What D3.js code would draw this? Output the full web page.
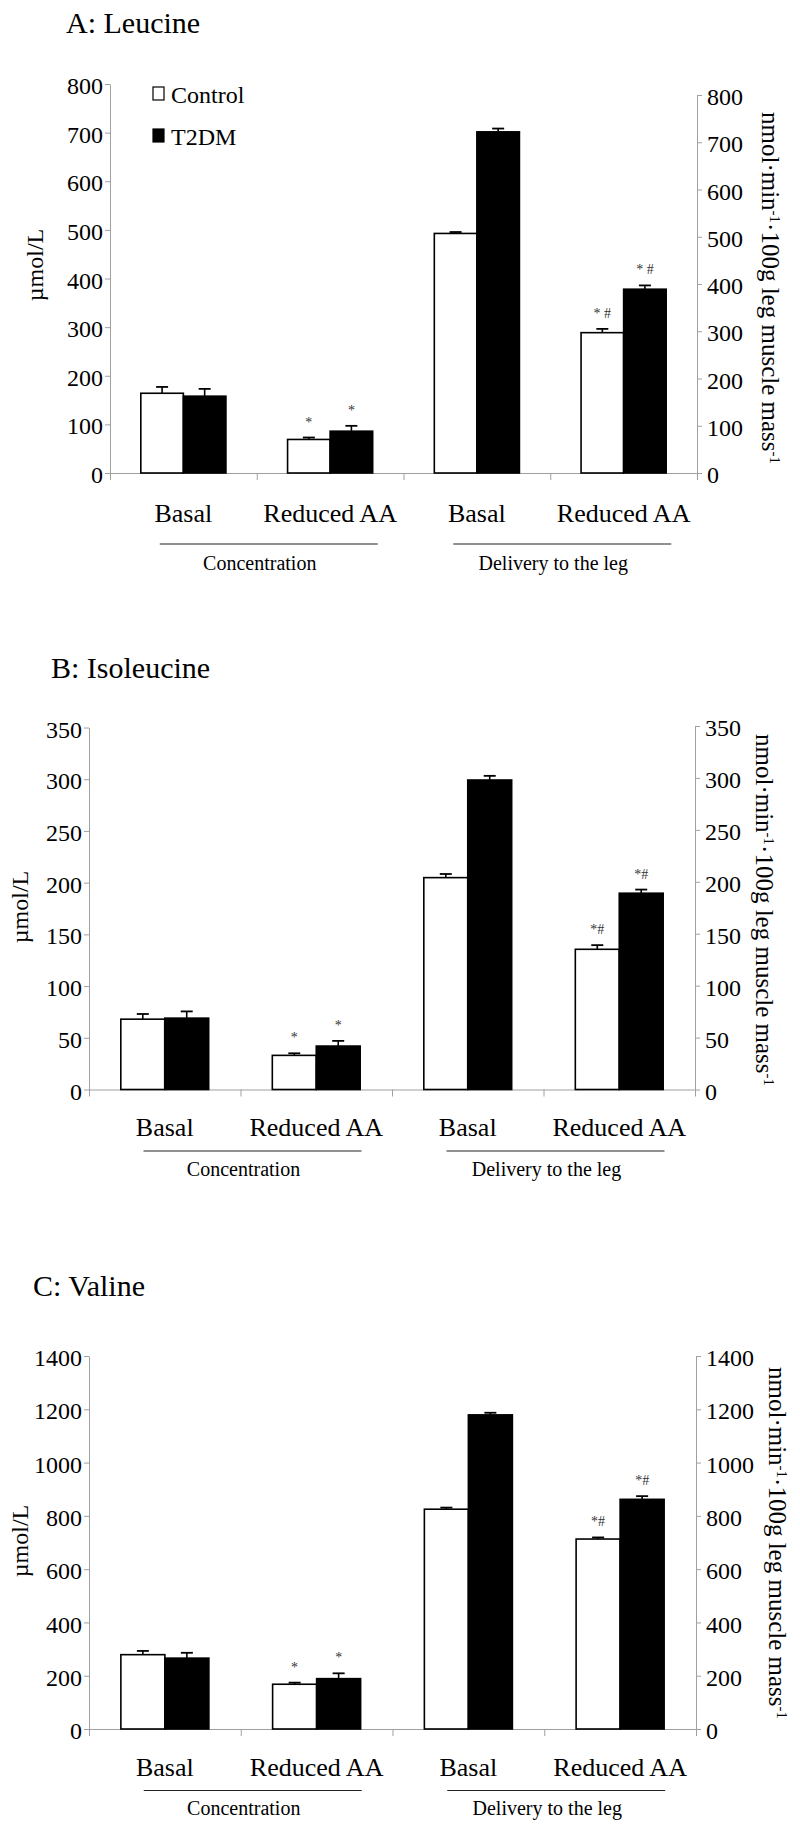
<!DOCTYPE html>
<html>
<head>
<meta charset="utf-8">
<script src="https://cdn.jsdelivr.net/npm/d3@7"></script>
<style>
  body { margin: 0; background: #fff; }
  svg, svg text { font-family: "Liberation Serif", "DejaVu Serif", "Times New Roman", serif; }
  svg { display: block; }
</style>
</head>
<body>
<div id="svg-container"></div>
<script>
////////////////////////////////////////////////////////////////////
////////////////////////////  Data  ////////////////////////////////
const conditions = ["Basal", "Reduced AA", "Basal", "Reduced AA"];
const groups = ["Concentration", "Delivery to the leg"];
const series = ["Control", "T2DM"];

// A: Leucine
const leuControl = [164, 69, 507, 297];
const leuControlErr = [13, 4, 3, 8];
const leuT2dm = [158, 86, 722, 389];
const leuT2dmErr = [15, 11, 7, 8];
const leuControlMark = ["", "*", "", "* #"];
const leuT2dmMark = ["", "*", "", "* #"];
const leuTicks = [0, 100, 200, 300, 400, 500, 600, 700, 800];

// B: Isoleucine
const ileControl = [68, 33, 204, 135];
const ileControlErr = [5, 2, 3.5, 4];
const ileT2dm = [69, 42, 298, 189];
const ileT2dmErr = [6.5, 5, 4, 3.5];
const ileControlMark = ["", "*", "", "*#"];
const ileT2dmMark = ["", "*", "", "*#"];
const ileTicks = [0, 50, 100, 150, 200, 250, 300, 350];

// C: Valine
const valControl = [279, 168, 825, 713];
const valControlErr = [14, 6, 6, 6];
const valT2dm = [266, 189, 1179, 862];
const valT2dmErr = [20, 20, 8, 12];
const valControlMark = ["", "*", "", "*#"];
const valT2dmMark = ["", "*", "", "*#"];
const valTicks = [0, 200, 400, 600, 800, 1000, 1200, 1400];

////////////////////////////////////////////////////////////////////
////////////////////////////  Init  ////////////////////////////////
const width = 800;
const height = 1827;
const axisColor = "#a0a0a0";
const serif = '"Liberation Serif", "DejaVu Serif", serif';

const svg = d3
  .select("#svg-container")
  .append("svg")
  .attr("width", width)
  .attr("height", height);

const panels = [
  {
    title: "A: Leucine", titleX: 66, titleY: 33,
    left: 110, right: 697, top: 84, rightTop: 95, bottom: 473,
    ticks: leuTicks,
    values: [leuControl, leuT2dm], errs: [leuControlErr, leuT2dmErr],
    marks: [leuControlMark, leuT2dmMark],
    catGap: 40, lineGap: 71, groupGap: 90,
    yTitleX: 35, yTitleY: 265, y2TitleX: 771, y2TitleY: 288,
    legend: true,
  },
  {
    title: "B: Isoleucine", titleX: 51, titleY: 678,
    left: 89, right: 695, top: 727.5, rightTop: 726, bottom: 1089.5,
    ticks: ileTicks,
    values: [ileControl, ileT2dm], errs: [ileControlErr, ileT2dmErr],
    marks: [ileControlMark, ileT2dmMark],
    catGap: 37.5, lineGap: 61.5, groupGap: 79,
    yTitleX: 20, yTitleY: 907, y2TitleX: 765, y2TitleY: 910,
    legend: false,
  },
  {
    title: "C: Valine", titleX: 33, titleY: 1296,
    left: 89, right: 696, top: 1356, rightTop: 1356, bottom: 1729,
    ticks: valTicks,
    values: [valControl, valT2dm], errs: [valControlErr, valT2dmErr],
    marks: [valControlMark, valT2dmMark],
    catGap: 37.5, lineGap: 61.5, groupGap: 79,
    yTitleX: 20, yTitleY: 1541, y2TitleX: 778, y2TitleY: 1543,
    legend: false,
  },
];

panels.forEach(drawPanel);

////////////////////////////////////////////////////////////////////
////////////////////////////  Panel  ///////////////////////////////
function drawPanel(p) {
  const g = svg.append("g");
  const yMax = d3.max(p.ticks);

  // scales
  const x = d3
    .scaleBand()
    .domain(d3.range(conditions.length))
    .range([p.left, p.right]);
  const bw = x.bandwidth();
  const xSeries = d3
    .scaleBand()
    .domain(series)
    .range([bw * 0.21, bw * 0.79]);
  const yLeft = d3.scaleLinear().domain([0, yMax]).range([p.bottom, p.top]);
  const yRight = d3.scaleLinear().domain([0, yMax]).range([p.bottom, p.rightTop]);
  // concentration -> left axis, delivery -> right axis
  const yFor = (i) => (i < 2 ? yLeft : yRight);

  // title
  g.append("text")
    .attr("x", p.titleX)
    .attr("y", p.titleY)
    .style("font-family", serif)
    .style("font-size", "30px")
    .text(p.title);

  // left axis
  const yAxisL = d3
    .axisLeft(yLeft)
    .tickValues(p.ticks)
    .tickFormat(d3.format("d"))
    .tickSize(5)
    .tickSizeOuter(0)
    .tickPadding(2);
  const gl = g
    .append("g")
    .attr("transform", `translate(${p.left},0)`)
    .call(yAxisL);

  // right axis
  const yAxisR = d3
    .axisRight(yRight)
    .tickValues(p.ticks)
    .tickFormat(d3.format("d"))
    .tickSize(5)
    .tickSizeOuter(0)
    .tickPadding(5);
  const gr = g
    .append("g")
    .attr("transform", `translate(${p.right},0)`)
    .call(yAxisR);

  // bottom axis (category boundaries)
  const xb = d3.scaleLinear().domain([0, conditions.length]).range([p.left, p.right]);
  const xAxis = d3
    .axisBottom(xb)
    .tickValues(d3.range(conditions.length + 1))
    .tickSize(7)
    .tickSizeOuter(0)
    .tickFormat("");
  const gx = g
    .append("g")
    .attr("transform", `translate(0,${p.bottom})`)
    .call(xAxis);

  [gl, gr, gx].forEach((a) => {
    a.attr("font-family", serif).attr("font-size", 24);
    a.selectAll("path, line").attr("stroke", axisColor);
    a.selectAll("text")
      .style("font-family", serif)
      .style("font-size", "24px")
      .attr("fill", "#000")
      .attr("dy", "0.4em");
  });

  // bars
  series.forEach((s, si) => {
    const vals = p.values[si];
    const errs = p.errs[si];
    const marks = p.marks[si];
    const bars = g
      .append("g")
      .selectAll("g")
      .data(vals.map((v, i) => ({ i, v, e: errs[i], m: marks[i] })))
      .join("g");

    bars
      .append("rect")
      .attr("x", (d) => x(d.i) + xSeries(s))
      .attr("y", (d) => yFor(d.i)(d.v))
      .attr("width", xSeries.bandwidth())
      .attr("height", (d) => p.bottom - yFor(d.i)(d.v))
      .attr("fill", si === 0 ? "#fff" : "#000")
      .attr("stroke", "#000")
      .attr("stroke-width", 1.6);

    const cx = (d) => x(d.i) + xSeries(s) + xSeries.bandwidth() / 2;

    // error bars
    bars
      .append("line")
      .attr("x1", cx)
      .attr("x2", cx)
      .attr("y1", (d) => yFor(d.i)(d.v))
      .attr("y2", (d) => yFor(d.i)(d.v + d.e))
      .attr("stroke", "#000")
      .attr("stroke-width", 1.6);
    bars
      .append("line")
      .attr("x1", (d) => cx(d) - 6)
      .attr("x2", (d) => cx(d) + 6)
      .attr("y1", (d) => yFor(d.i)(d.v + d.e))
      .attr("y2", (d) => yFor(d.i)(d.v + d.e))
      .attr("stroke", "#000")
      .attr("stroke-width", 1.8);

    // significance marks
    bars
      .filter((d) => d.m)
      .append("text")
      .attr("x", cx)
      .attr("y", (d) => yFor(d.i)(d.v + d.e) - 11)
      .attr("text-anchor", "middle")
      .style("font-family", serif)
      .style("font-size", "14px")
      .attr("fill", "#333")
      .text((d) => d.m);
  });

  // category labels
  g.selectAll(".cat")
    .data(conditions)
    .join("text")
    .attr("x", (d, i) => x(i) + bw / 2)
    .attr("y", p.bottom + p.catGap)
    .attr("dy", "0.35em")
    .attr("text-anchor", "middle")
    .style("font-family", serif)
    .style("font-size", "26px")
    .text((d) => d);

  // group lines + labels
  groups.forEach((name, gi) => {
    const c = p.left + bw * (2 * gi + 1);
    g.append("line")
      .attr("x1", c + 12 - 109)
      .attr("x2", c + 12 + 109)
      .attr("y1", p.bottom + p.lineGap)
      .attr("y2", p.bottom + p.lineGap)
      .attr("stroke", "#222")
      .attr("stroke-width", 1.2);
    g.append("text")
      .attr("x", c + 3)
      .attr("y", p.bottom + p.groupGap)
      .attr("dy", "0.35em")
      .attr("text-anchor", "middle")
      .style("font-family", serif)
      .style("font-size", "20px")
      .text(name);
  });

  // left axis title
  g.append("text")
    .attr("transform", `translate(${p.yTitleX},${p.yTitleY}) rotate(-90)`)
    .attr("text-anchor", "middle")
    .attr("dy", "0.35em")
    .style("font-family", serif)
    .style("font-size", "24px")
    .text("µmol/L");

  // right axis title
  const t2 = g
    .append("text")
    .attr("transform", `translate(${p.y2TitleX},${p.y2TitleY}) rotate(90)`)
    .attr("text-anchor", "middle")
    .attr("dy", "0.35em")
    .style("font-family", serif)
    .style("font-size", "25px");
  t2.append("tspan").text("nmol·min");
  t2.append("tspan").attr("dy", -8).style("font-size", "15px").text("-1");
  t2.append("tspan").attr("dy", 8).text("·100g leg muscle mass");
  t2.append("tspan").attr("dy", -8).style("font-size", "15px").text("-1");

  // legend
  if (p.legend) {
    const lg = g.append("g").attr("transform", "translate(153,87)");
    series.forEach((s, si) => {
      lg.append("rect")
        .attr("x", 0)
        .attr("y", si * 42)
        .attr("width", 11)
        .attr("height", 13)
        .attr("fill", si === 0 ? "#fff" : "#000")
        .attr("stroke", "#000")
        .attr("stroke-width", 1.2);
      lg.append("text")
        .attr("x", 18)
        .attr("y", si * 42 + 16)
        .style("font-family", serif)
        .style("font-size", "24px")
        .text(s);
    });
  }
}
</script>
</body>
</html>
